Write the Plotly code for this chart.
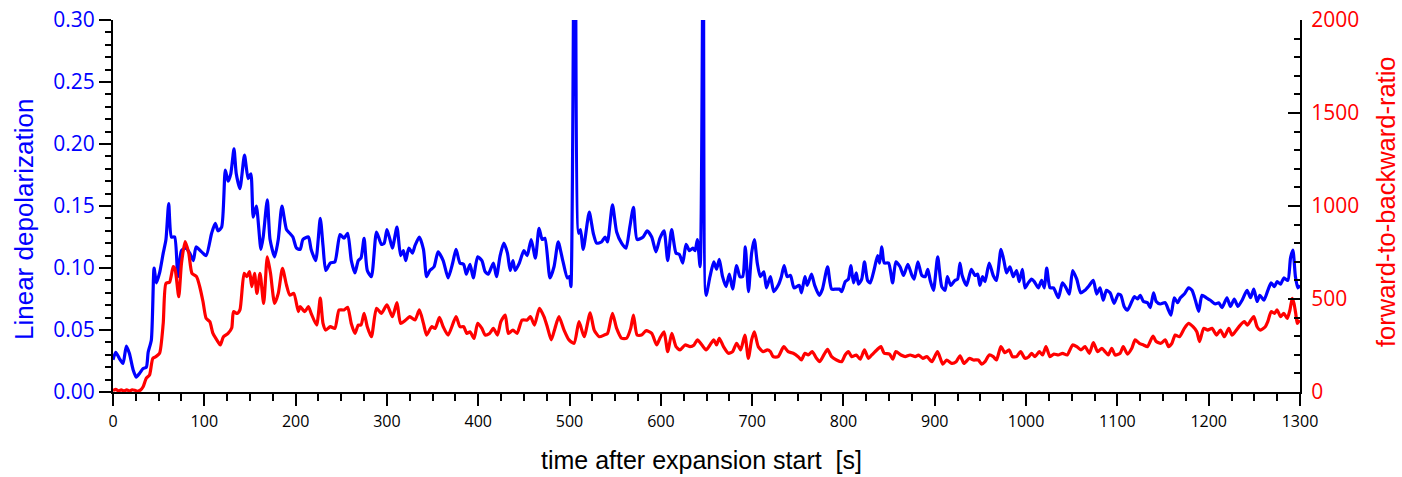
import plotly.graph_objects as go

# Linear depolarization (left axis) vs. time after expansion start
depol_t = [0, 3, 7, 11, 14.6, 18, 22, 25.5, 29, 33, 36.5, 38.5, 42, 45, 47.5, 51, 55, 58, 61, 64, 67.5, 71, 75, 80, 84, 88, 91, 97, 102, 108, 112, 115, 119, 123, 126, 129, 132.5, 135, 139, 144, 148, 151, 153.6, 157, 162, 164.5, 169, 172, 177, 181, 185, 190, 193.6, 197, 201, 205, 208, 214, 217, 222, 227, 230, 233, 238, 243, 248.6, 253, 257, 261, 265, 268.6, 271.6, 275, 278.5, 283, 288.6, 294, 297, 300, 303, 306, 311, 315, 318, 320.6, 324, 328, 330.7, 335.5, 340, 343.5, 347, 351.6, 356, 361.6, 367, 372, 375.7, 380, 384, 387, 391, 394.6, 399.4, 404, 407.6, 411, 416.6, 420, 424, 428, 432, 435, 438, 440.5, 445, 450, 453.6, 458, 462.6, 466.6, 470, 473, 478.6, 483, 487.6, 492.6, 497.6, 500, 501.5, 506, 510, 512, 515, 521.6, 526, 529.7, 535, 539, 541.6, 547, 551.6, 557, 561.8, 566, 570, 574, 580.6, 585, 590, 594.7, 599, 603.5, 607.5, 611.8, 616.6, 620.2, 624, 627.6, 631.3, 635, 637.5, 640, 643, 646.5, 649.5, 653.8, 658, 661, 664, 667.6, 671.4, 675, 678.6, 683, 686.6, 689.6, 692.5, 696, 699.4, 702.4, 705.6, 709, 712.8, 715.6, 720, 723.7, 728.5, 732, 735, 738.4, 742, 745.8, 751.6, 754, 757.8, 760.3, 765, 768.5, 773.5, 777, 782.6, 787, 792, 795.5, 798, 802, 805.4, 808, 811, 814, 816.5, 820, 823, 826.4, 829.3, 833.7, 837.4, 839.6, 842, 844.7, 849.4, 853.8, 857.4, 862, 865.8, 870.5, 875, 877.4, 881.5, 885.8, 889.5, 892.4, 895, 898.6, 903.2, 907.6, 911.3, 913.8, 917.5, 922, 925, 927.6, 930, 934.8, 940, 944, 947, 949.4, 952.3, 955, 959.6, 964, 967.6, 972.5, 975.7, 978.6, 982.3, 986, 989.6, 992.5, 996, 998.8, 1002.4, 1006, 1009, 1013.4, 1017, 1020, 1022.6, 1026.2, 1030, 1035.4, 1039.8, 1043.8, 1047.4, 1051, 1055.5, 1059.8, 1064.5, 1069.3, 1073.6, 1077.3, 1081, 1084.5, 1088, 1092, 1096.4, 1101, 1103.8, 1107.4, 1111, 1115.8, 1118.7, 1122, 1125, 1128.6, 1133, 1136, 1139.6, 1142.5, 1147, 1152.4, 1156, 1158.7, 1162.3, 1166, 1169, 1173.3, 1178, 1181.7, 1185.4, 1189, 1192.7, 1197.5, 1201.8, 1207.3, 1211, 1214.6, 1220, 1223.8, 1228, 1232, 1236.6, 1242, 1245.8, 1249.4, 1253, 1256, 1260.4, 1264.8, 1268.4, 1272, 1275, 1278.7, 1282.3, 1286.7, 1289.6, 1292.2, 1295, 1297.6, 1300]
depol = [0.026, 0.032, 0.027, 0.023, 0.037, 0.031, 0.018, 0.012, 0.015, 0.019, 0.020, 0.032, 0.042, 0.100, 0.088, 0.096, 0.112, 0.123, 0.152, 0.125, 0.125, 0.093, 0.114, 0.116, 0.112, 0.106, 0.117, 0.113, 0.110, 0.128, 0.136, 0.130, 0.133, 0.179, 0.170, 0.176, 0.196, 0.176, 0.164, 0.191, 0.172, 0.176, 0.141, 0.150, 0.115, 0.125, 0.155, 0.123, 0.109, 0.123, 0.150, 0.131, 0.128, 0.125, 0.116, 0.115, 0.123, 0.125, 0.115, 0.106, 0.140, 0.118, 0.098, 0.104, 0.105, 0.127, 0.124, 0.128, 0.106, 0.096, 0.106, 0.108, 0.124, 0.098, 0.093, 0.129, 0.119, 0.120, 0.131, 0.124, 0.116, 0.133, 0.110, 0.114, 0.106, 0.116, 0.112, 0.118, 0.125, 0.115, 0.093, 0.098, 0.101, 0.113, 0.106, 0.092, 0.104, 0.115, 0.104, 0.103, 0.095, 0.103, 0.092, 0.109, 0.106, 0.097, 0.095, 0.104, 0.093, 0.110, 0.120, 0.112, 0.098, 0.106, 0.098, 0.104, 0.114, 0.110, 0.123, 0.108, 0.132, 0.123, 0.124, 0.092, 0.101, 0.121, 0.106, 0.092, 0.093, 0.085, 0.50, 0.128, 0.131, 0.115, 0.145, 0.128, 0.120, 0.121, 0.125, 0.121, 0.151, 0.129, 0.120, 0.116, 0.133, 0.149, 0.123, 0.125, 0.130, 0.125, 0.113, 0.124, 0.130, 0.106, 0.131, 0.112, 0.111, 0.104, 0.119, 0.114, 0.116, 0.114, 0.123, 0.101, 0.40, 0.078, 0.093, 0.105, 0.099, 0.107, 0.093, 0.085, 0.095, 0.083, 0.102, 0.093, 0.093, 0.117, 0.081, 0.112, 0.123, 0.104, 0.093, 0.097, 0.084, 0.093, 0.081, 0.086, 0.093, 0.102, 0.093, 0.094, 0.084, 0.086, 0.080, 0.093, 0.086, 0.095, 0.086, 0.078, 0.083, 0.101, 0.083, 0.083, 0.083, 0.081, 0.089, 0.091, 0.102, 0.088, 0.096, 0.087, 0.091, 0.105, 0.090, 0.088, 0.099, 0.110, 0.104, 0.117, 0.104, 0.104, 0.088, 0.105, 0.101, 0.094, 0.103, 0.094, 0.091, 0.105, 0.094, 0.093, 0.099, 0.090, 0.082, 0.109, 0.085, 0.082, 0.093, 0.086, 0.090, 0.091, 0.104, 0.094, 0.086, 0.099, 0.094, 0.095, 0.086, 0.093, 0.089, 0.104, 0.094, 0.090, 0.115, 0.106, 0.096, 0.101, 0.093, 0.098, 0.089, 0.099, 0.084, 0.088, 0.091, 0.089, 0.084, 0.090, 0.084, 0.100, 0.084, 0.084, 0.076, 0.088, 0.084, 0.079, 0.098, 0.091, 0.080, 0.082, 0.086, 0.090, 0.079, 0.084, 0.074, 0.082, 0.080, 0.0715, 0.079, 0.078, 0.069, 0.066, 0.073, 0.077, 0.075, 0.078, 0.073, 0.072, 0.068, 0.080, 0.073, 0.071, 0.072, 0.066, 0.062, 0.076, 0.072, 0.076, 0.079, 0.084, 0.082, 0.074, 0.065, 0.078, 0.076, 0.074, 0.071, 0.072, 0.068, 0.076, 0.069, 0.075, 0.069, 0.074, 0.082, 0.076, 0.083, 0.073, 0.078, 0.074, 0.082, 0.088, 0.085, 0.089, 0.087, 0.092, 0.090, 0.108, 0.1145, 0.093, 0.084, 0.086]

# Forward-to-backward ratio (right axis)
fbr_t = [0, 3, 6, 9, 12, 15, 18, 21, 24, 27, 30, 33, 36.5, 40, 43.6, 47, 51, 55, 58, 62, 66, 68, 72, 75, 79, 83, 86.5, 91.5, 95, 98.6, 102, 106, 109.5, 115, 117.5, 121, 126, 130, 132, 136, 139, 143.6, 146.5, 149.5, 152, 155, 157.6, 161, 165, 169, 172.5, 177, 181, 185.6, 190, 193.6, 198, 203, 205, 210, 214, 217, 223, 227, 230, 233, 238, 243, 247.5, 251, 253, 257, 261, 265, 268.6, 271.6, 275, 278.5, 283, 288.6, 294, 300, 306, 311, 315, 320.6, 325, 330.7, 335.5, 340, 343.5, 349, 352.8, 357.5, 361.6, 367, 375.7, 380, 384, 387.5, 391, 395.4, 399.4, 404, 407.6, 412.4, 416.6, 421, 424.8, 429.6, 433, 438, 442.5, 448, 453.6, 457.2, 461.6, 467, 472, 475.6, 480, 484, 488.4, 494, 499.4, 505, 510.4, 516, 522.6, 527, 532.5, 538, 541.6, 547, 551.6, 557, 562.5, 567, 570, 574, 578.8, 584, 590, 595.4, 599, 603.5, 607.5, 612, 616.6, 621, 626.5, 632, 636.4, 640, 645, 649.5, 653.8, 658, 661, 664, 668.6, 674, 678.6, 683, 687.4, 692, 695.8, 699.4, 702.4, 706.7, 712, 716.5, 720, 723, 728.5, 734.6, 739.4, 745, 750.4, 754, 757.8, 761.4, 765.8, 770.5, 774, 778.5, 782.6, 787, 792.4, 798, 801.8, 805.4, 809, 814, 818.3, 823, 827.4, 831, 836.5, 841, 844.6, 850.4, 854, 857.4, 863, 867.6, 873, 878.6, 882.2, 887, 891.3, 896.8, 903, 908.8, 913, 918.6, 923.4, 927.7, 932, 938, 942.3, 947.7, 951.4, 955, 959.6, 964, 967.6, 972.4, 976.8, 981.5, 985, 989.6, 994, 998.8, 1003, 1006, 1009.8, 1014.5, 1018, 1021.8, 1026.2, 1030.5, 1035.3, 1040, 1045, 1051, 1055.5, 1060, 1064.5, 1069.3, 1073.7, 1078.4, 1083, 1086.5, 1090, 1093.8, 1097.5, 1103, 1106.4, 1111, 1115.8, 1119.4, 1124, 1128.6, 1133, 1139, 1142.5, 1147.7, 1152.4, 1156, 1159.7, 1163.3, 1168, 1173.3, 1178, 1182.8, 1187, 1190, 1194.5, 1199, 1203.7, 1208.5, 1212.8, 1217.2, 1222, 1225.5, 1229, 1234.6, 1239, 1242.5, 1246.2, 1249.4, 1253, 1256.6, 1262, 1264.7, 1268.4, 1272, 1275, 1278.7, 1282.3, 1286, 1289, 1291.5, 1293.4, 1295.3, 1297, 1299.6]
fbr = [8, 14, 6, 12, 6, 12, 5, 12, 9, 4, 10, 28, 75, 91, 181, 190, 208, 369, 584, 591, 674, 660, 512, 692, 808, 745, 638, 620, 566, 485, 396, 378, 315, 270, 253, 297, 315, 344, 432, 422, 441, 638, 620, 647, 566, 638, 530, 638, 476, 727, 638, 476, 530, 665, 575, 521, 530, 432, 459, 432, 459, 423, 360, 505, 369, 333, 351, 342, 441, 441, 441, 455, 367, 315, 360, 360, 423, 351, 297, 450, 423, 468, 405, 480, 369, 387, 405, 387, 441, 369, 306, 351, 342, 401, 351, 306, 405, 351, 351, 315, 324, 288, 369, 342, 306, 315, 342, 306, 378, 414, 315, 333, 315, 387, 387, 405, 360, 450, 405, 351, 280, 342, 405, 333, 280, 262, 378, 297, 426, 333, 297, 306, 315, 423, 342, 289, 289, 342, 414, 306, 306, 330, 315, 253, 289, 324, 217, 315, 244, 226, 253, 244, 253, 280, 253, 226, 253, 280, 253, 289, 244, 208, 217, 262, 226, 306, 181, 280, 324, 244, 217, 226, 217, 190, 190, 244, 217, 208, 190, 172, 208, 199, 217, 181, 163, 199, 229, 190, 172, 163, 199, 217, 190, 199, 176, 226, 181, 199, 226, 244, 208, 204, 176, 217, 199, 190, 199, 190, 199, 181, 190, 163, 217, 150, 172, 154, 163, 195, 154, 181, 172, 172, 150, 163, 199, 190, 172, 244, 211, 226, 190, 190, 217, 181, 190, 208, 190, 217, 199, 244, 190, 204, 199, 208, 199, 253, 244, 226, 244, 208, 265, 217, 235, 217, 199, 235, 199, 208, 244, 204, 235, 280, 262, 253, 244, 301, 271, 262, 280, 244, 262, 306, 297, 342, 369, 351, 324, 271, 342, 333, 342, 306, 333, 297, 342, 306, 324, 360, 378, 360, 386, 405, 351, 333, 351, 378, 432, 423, 441, 405, 423, 396, 441, 504, 477, 423, 369, 387]

BLUE = "#0000FF"
RED = "#FF0000"
TITLE_FONT = "Liberation Sans, Arial, sans-serif"
TICK_FONT = "Open Sans, sans-serif"

fig = go.Figure()
fig.add_trace(go.Scatter(x=depol_t, y=depol, mode="lines",
                         line=dict(color=BLUE, width=3.2, shape="spline", smoothing=0.6),
                         xaxis="x", yaxis="y", showlegend=False))
fig.add_trace(go.Scatter(x=fbr_t, y=fbr, mode="lines",
                         line=dict(color=RED, width=3.2, shape="spline", smoothing=0.6),
                         xaxis="x", yaxis="y2", showlegend=False))

x0, x1 = 113, 1300   # plot area, px
y0, y1 = 20, 392


def px_x(p):
    return (p - x0) / (x1 - x0)


def px_y(p):
    return (y1 - p) / (y1 - y0)


frame = dict(showline=True, linecolor="black", linewidth=2, showgrid=False, zeroline=False,
             tickcolor="black", tickwidth=2, ticklen=12, automargin=False)

fig.update_layout(
    width=1402, height=477,
    margin=dict(l=x0, r=1402 - x1, t=y0, b=477 - y1, pad=0, autoexpand=False),
    paper_bgcolor="white", plot_bgcolor="white",
    xaxis=dict(range=[0, 1300], ticks="outside", dtick=100, tick0=0,
               minor=dict(dtick=25, ticks="outside", ticklen=7, tickwidth=1.5, tickcolor="black"),
               tickfont=dict(family=TICK_FONT, size=16, color="black"),
               ticklabelstandoff=2, **frame),
    xaxis2=dict(range=[0, 1300], overlaying="x", side="top", anchor="y", ticks="inside",
                dtick=100, tick0=0, showticklabels=False,
                minor=dict(dtick=25, ticks="inside", ticklen=7, tickwidth=1.5, tickcolor="black"),
                **frame),
    yaxis=dict(range=[0, 0.30], ticks="outside", dtick=0.05, tick0=0, tickformat=".2f",
               minor=dict(dtick=0.01, ticks="outside", ticklen=6, tickwidth=1.5, tickcolor="black"),
               tickfont=dict(family=TICK_FONT, size=21, color=BLUE), **frame),
    yaxis2=dict(range=[0, 2000], overlaying="y", side="right", anchor="x", ticks="inside",
                dtick=500, tick0=0,
                minor=dict(dtick=100, ticks="inside", ticklen=6, tickwidth=1.5, tickcolor="black"),
                tickfont=dict(family=TICK_FONT, size=21, color=RED), ticklabelstandoff=5, **frame),
    annotations=[
        dict(text="time after expansion start\u00a0 [s]", xref="paper", yref="paper",
             x=px_x(701), y=px_y(460), xanchor="center", yanchor="middle", showarrow=False,
             font=dict(family=TITLE_FONT, size=25, color="black")),
        dict(text="Linear depolarization", xref="paper", yref="paper", textangle=-90,
             x=px_x(24), y=px_y(220), xanchor="center", yanchor="middle", showarrow=False,
             font=dict(family=TITLE_FONT, size=26, color=BLUE)),
        dict(text="forward-to-backward-ratio", xref="paper", yref="paper", textangle=-90,
             x=px_x(1386), y=px_y(202), xanchor="center", yanchor="middle", showarrow=False,
             borderpad=0, font=dict(family=TITLE_FONT, size=25.5, color=RED)),
    ],
)

fig.write_html("out.html")
